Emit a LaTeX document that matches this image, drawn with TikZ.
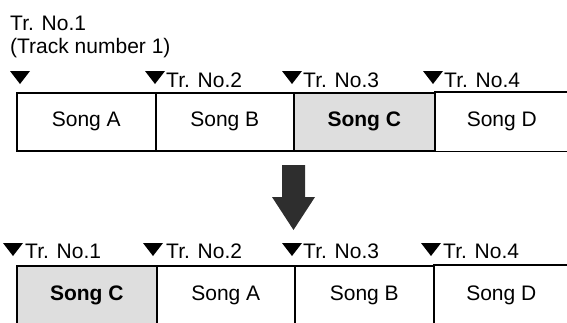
\documentclass[tikz,border=0pt]{standalone}
\usepackage{fontspec}
\setmainfont{Liberation Sans}
\begin{document}
\begin{tikzpicture}[x=1pt,y=-1pt,
  cell/.style={draw, line width=1.6pt, minimum height=58pt, inner sep=0pt, anchor=north west, font=\fontsize{21}{24}\selectfont},
  opencell/.style={cell, draw=none},
  hilite/.style={fill=black!13, font=\fontsize{21}{24}\selectfont\bfseries},
  lbl/.style={inner sep=0pt, anchor=base west, font=\fontsize{21}{24}\selectfont},
  marker/.style={fill=black},
  bigarrow/.style={fill=black!82}]
\useasboundingbox (0,0) rectangle (567,322);
\begin{scope}
\clip (0,0) rectangle (567,322);
% header text
\node[lbl] (t1) at (10,30) {Tr. No.1};
\node[lbl] (t1b) at (10,53) {(Track number 1)};
% top row
\node[cell, minimum width=139pt] (a1) at (16,92) {Song A};
\node[cell, minimum width=138pt] (b1) at (155,92) {Song B};
\node[cell, hilite, minimum width=141pt] (c1) at (293,92) {Song C};
\node[opencell, minimum width=134pt] (d1) at (434,92) {Song D};
\draw[line width=1.6pt] (d1.north west) -- (d1.north east) (d1.south west) -- (d1.south east);
% top markers
\foreach \cx in {20,155,292,433}
  \fill[marker] (\cx-10,71) -- (\cx+10,71) -- (\cx,84) -- cycle;
\node[lbl] (t2) at (166,87) {Tr. No.2};
\node[lbl] (t3) at (303,87) {Tr. No.3};
\node[lbl] (t4) at (444,87) {Tr. No.4};
% arrow
\fill[bigarrow] (282,165) -- (305,165) -- (305,197) -- (315,197) -- (293.5,230) -- (272,197) -- (282,197) -- cycle;
% bottom markers
\foreach \cx in {13,153,292,431}
  \fill[marker] (\cx-10,243) -- (\cx+10,243) -- (\cx,256) -- cycle;
\node[lbl] (u1) at (25,258) {Tr. No.1};
\node[lbl] (u2) at (166,258) {Tr. No.2};
\node[lbl] (u3) at (303,258) {Tr. No.3};
\node[lbl] (u4) at (443,258) {Tr. No.4};
% bottom row
\node[cell, hilite, minimum width=140pt, minimum height=59pt] (a2) at (16,265) {Song C};
\node[cell, minimum width=138pt, minimum height=59pt] (b2) at (156,265) {Song A};
\node[cell, minimum width=139pt, minimum height=59pt] (c2) at (294,265) {Song B};
\node[opencell, minimum width=135pt, minimum height=59pt] (d2) at (433,265) {Song D};
\draw[line width=1.6pt] (d2.north west) -- (d2.north east);
\end{scope}
\end{tikzpicture}
\end{document}
